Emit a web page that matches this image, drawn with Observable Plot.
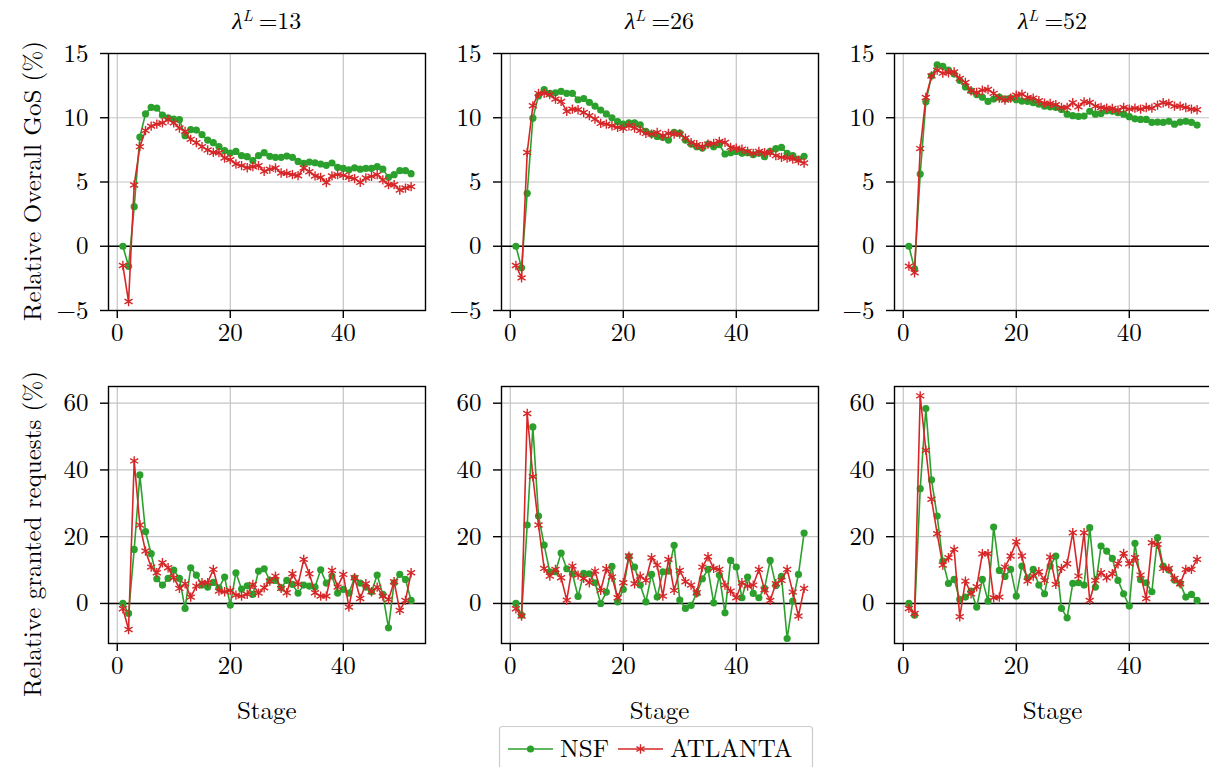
<!DOCTYPE html>
<html><head><meta charset="utf-8">
<script src="https://cdn.jsdelivr.net/npm/d3@7"></script>
<script src="https://cdn.jsdelivr.net/npm/@observablehq/plot@0.6"></script>
<style>
html,body{margin:0;padding:0;background:#fff;overflow:hidden;}
#root{position:relative;width:1209px;height:767px;overflow:hidden;font-family:'Latin Modern Roman','Liberation Serif',serif;}
.panel{position:absolute;}
#overlay{position:absolute;left:0;top:0;pointer-events:none;}
</style></head><body><div id="root"></div>
<script>
// ---------- data ----------
const stages = [1,2,3,4,5,6,7,8,9,10,11,12,13,14,15,16,17,18,19,20,21,22,23,24,25,26,27,28,29,30,31,32,33,34,35,36,37,38,39,40,41,42,43,44,45,46,47,48,49,50,51,52];
const lambdas = ["13","26","52"];
const seriesNames = ["NSF","ATLANTA"];
const xTicks = [0,20,40];
const gosTicks = [-5,0,5,10,15];
const reqTicks = [0,20,40,60];

const gosNSF13 = [0,-1.56,3.08,8.5,10.3,10.8,10.75,10.2,10.0,9.9,9.85,8.6,9.07,9.04,8.68,8.26,8.06,7.75,7.44,7.25,7.38,7.05,6.97,6.66,7.05,7.28,7.0,6.92,6.92,7.02,6.92,6.6,6.45,6.55,6.5,6.4,6.3,6.48,6.14,6.06,5.95,6.1,6.0,6.06,6.06,6.2,6.0,5.36,5.57,5.88,5.88,5.65];
const gosATL13 = [-1.5,-4.3,4.77,7.75,9.0,9.35,9.5,9.6,9.85,9.6,9.2,8.94,8.32,8.06,7.75,7.49,7.3,7.28,6.87,6.74,6.4,6.27,6.11,6.19,6.27,5.83,6.0,6.09,5.7,5.67,5.57,5.49,6.09,5.8,5.47,5.36,4.95,5.47,5.57,5.52,5.36,5.26,4.97,5.31,5.44,5.57,5.16,4.79,4.79,4.38,4.53,4.64];
const gosNSF26 = [0,-1.68,4.12,9.97,11.7,12.2,11.9,11.94,12.05,11.9,11.9,11.4,11.5,11.2,10.9,10.6,10.3,10.0,9.7,9.5,9.6,9.6,9.45,8.94,8.73,8.55,8.47,8.26,8.86,8.8,8.26,7.95,7.75,7.64,7.95,7.75,7.9,7.18,7.28,7.38,7.23,7.28,7.12,7.23,6.97,7.38,7.59,7.69,7.23,7.05,6.79,7.0];
const gosATL26 = [-1.5,-2.46,7.3,10.93,11.9,11.9,11.8,11.45,11.27,10.5,10.67,10.62,10.41,10.16,9.9,9.56,9.5,9.38,9.25,9.17,9.38,9.2,9.0,8.78,8.73,8.86,8.6,8.78,8.73,8.73,8.42,8.06,7.9,7.75,7.95,8.0,8.16,8.08,7.69,7.64,7.56,7.38,7.23,7.38,7.28,7.3,7.05,6.92,6.87,6.79,6.66,6.48];
const gosNSF52 = [0,-1.76,5.62,11.24,13.26,14.12,14.0,13.7,13.4,12.9,12.4,12.1,11.8,11.6,11.27,11.45,11.6,11.45,11.53,11.4,11.3,11.27,11.17,11.06,10.9,10.85,10.8,10.65,10.28,10.16,10.1,10.13,10.5,10.28,10.34,10.54,10.5,10.39,10.28,10.08,9.92,9.87,9.87,9.64,9.66,9.64,9.72,9.5,9.66,9.72,9.64,9.43];
const gosATL52 = [-1.55,-2.07,7.6,11.58,13.26,13.7,13.47,13.5,13.57,13.06,12.75,12.1,11.97,12.15,12.2,11.9,11.53,11.37,11.53,11.76,11.84,11.58,11.53,11.32,11.14,11.11,11.01,10.8,10.8,11.17,10.85,11.24,11.19,10.9,10.8,10.75,10.72,10.6,10.8,10.67,10.75,10.67,10.8,10.75,10.98,11.17,11.11,10.9,10.9,10.8,10.67,10.62];

const reqNSF13 = [0,-3.0,16.2,38.5,21.5,14.9,7.4,5.5,7.5,10.0,7.5,-1.5,10.7,8.5,5.5,4.9,6.3,4.7,7.9,-0.5,9.2,4.3,5.3,2.7,9.7,10.4,6.9,6.9,4.7,6.9,5.7,3.1,5.5,5.2,4.9,10.1,6.1,8.2,3.1,4.2,3.1,7.7,6.1,4.9,3.5,8.5,2.7,-7.3,6.2,8.7,7.2,0.9];
const reqATL13 = [-1.6,-7.8,42.7,23.5,15.7,10.9,9.2,12.2,10.7,7.7,4.5,5.9,1.9,5.2,6.2,6.2,10.2,3.7,3.5,3.9,2.5,2.2,2.7,5.7,3.1,4.7,6.7,8.2,4.5,3.2,8.9,5.7,13.2,8.9,3.2,2.2,2.2,9.9,4.9,8.7,-1.1,7.7,1.5,5.9,3.5,4.9,2.2,1.2,6.5,-2.1,0.9,9.2];
const reqNSF26 = [0,-3.5,23.5,52.9,26.2,17.5,9.5,9.5,15.1,10.4,8.9,2.1,9.0,8.9,6.2,0.0,3.4,11.1,0.5,4.2,14.0,10.9,5.5,0.5,8.7,1.9,9.5,9.7,17.4,1.0,-1.5,-0.6,3.0,7.4,10.2,0.2,8.5,-2.8,12.9,10.9,1.7,7.9,3.0,1.7,4.5,12.9,5.4,8.1,-10.5,0.7,8.7,21.1];
const reqATL26 = [-1.6,-3.8,56.9,38.0,23.5,10.5,8.2,10.2,7.7,1.0,11.2,8.5,7.5,6.2,9.7,3.9,10.4,7.9,1.7,6.2,14.2,5.9,8.2,6.9,13.7,11.5,2.2,13.2,3.9,9.9,6.5,5.5,3.2,10.9,14.0,10.5,10.2,5.5,3.7,1.7,6.2,5.2,5.5,10.2,4.1,0.9,5.9,6.9,10.2,3.4,-3.8,4.5];
const reqNSF52 = [0,-3.5,34.4,58.4,37.0,26.2,12.7,6.0,7.2,1.2,1.9,3.7,-1.1,7.2,0.7,22.9,9.9,8.1,10.2,2.2,11.2,7.7,10.2,5.5,2.9,11.2,14.2,-1.5,-4.3,6.0,6.2,5.5,22.7,4.9,17.2,15.7,13.5,6.9,2.9,-0.8,18.0,7.1,6.2,3.5,19.7,11.2,10.0,7.0,6.0,1.9,2.7,0.9];
const reqATL52 = [-1.5,-3.0,62.2,45.9,31.2,20.9,11.5,13.7,16.2,-4.0,6.7,2.9,5.0,14.9,14.9,1.7,1.9,10.9,14.2,18.5,14.2,6.7,8.2,9.5,6.9,13.9,5.7,10.5,11.9,21.2,8.2,21.2,0.9,6.9,9.2,7.7,8.9,11.9,15.0,11.9,13.7,8.5,1.5,18.2,17.7,10.5,10.5,7.5,5.9,10.2,10.2,13.2];

// ---------- layout / style ----------
const GREEN = "#2ca02c", RED = "#d62728";
const FONT = "'Latin Modern Roman', 'Liberation Serif', serif";
const FW = 317, FH = 257;
const ML = 100, MR = 10, MT = 10, MB = 50;
const colLeft = [108.3, 501, 894];
const rowTop = [52.7, 385.7];

const root = document.getElementById("root");

function rows(vals, name) { return stages.map((s, i) => ({stage: s, value: vals[i], series: name})); }

function panel(nsf, atl, yDomain, yTicks, col, row) {
  const dn = rows(nsf, seriesNames[0]);
  const da = rows(atl, seriesNames[1]);
  const p = Plot.plot({
    width: ML + FW + MR, height: MT + FH + MB,
    marginLeft: ML, marginRight: MR, marginTop: MT, marginBottom: MB,
    style: {fontFamily: FONT, fontSize: "25px", background: "transparent", color: "#000", overflow: "visible"},
    x: {domain: [-1.55, 54.55]},
    y: {domain: yDomain},
    marks: [
      Plot.gridX(xTicks, {stroke: "#c4c4c4", strokeOpacity: 1, strokeWidth: 1.2}),
      Plot.gridY(yTicks, {stroke: "#c4c4c4", strokeOpacity: 1, strokeWidth: 1.2}),
      Plot.ruleY([0], {stroke: "#000", strokeWidth: 1.5}),
      Plot.line(dn, {x: "stage", y: "value", stroke: GREEN, strokeWidth: 1.6}),
      Plot.dot(dn, {x: "stage", y: "value", fill: GREEN, r: 3.6}),
      Plot.line(da, {x: "stage", y: "value", stroke: RED, strokeWidth: 1.6}),
      Plot.dot(da, {x: "stage", y: "value", symbol: "asterisk", stroke: RED, strokeWidth: 1.4, r: 4.4}),
      Plot.frame({stroke: "#000", strokeWidth: 1.4}),
      Plot.axisX(xTicks, {tickSize: 8, tickPadding: 5, label: null, stroke: "#000", strokeWidth: 1.4, fill: "#000", fontFamily: FONT}),
      Plot.axisY(yTicks, {tickSize: 8, tickPadding: 12, label: null, stroke: "#000", strokeWidth: 1.4, fill: "#000", fontFamily: FONT})
    ]
  });
  p.classList.add("panel");
  p.style.left = (colLeft[col] - ML) + "px";
  p.style.top = (rowTop[row] - MT) + "px";
  root.appendChild(p);
}

const gosSets = [[gosNSF13, gosATL13], [gosNSF26, gosATL26], [gosNSF52, gosATL52]];
const reqSets = [[reqNSF13, reqATL13], [reqNSF26, reqATL26], [reqNSF52, reqATL52]];
for (let c = 0; c < 3; c++) {
  panel(gosSets[c][0], gosSets[c][1], [-5, 15], gosTicks, c, 0);
  panel(reqSets[c][0], reqSets[c][1], [-12, 65], reqTicks, c, 1);
}

// ---------- titles, axis labels, legend ----------
const svg = d3.select(root).append("svg").attr("id", "overlay")
  .attr("width", 1209).attr("height", 767)
  .attr("font-family", FONT).style("font-family", FONT).style("fill", "#000");

lambdas.forEach((lam, c) => {
  const cx = colLeft[c] + FW / 2;
  const t = svg.append("text").attr("x", cx).attr("y", 29).attr("text-anchor", "middle").attr("font-size", 24);
  t.append("tspan").attr("font-style", "italic").style("font-family", "'Liberation Serif', serif").text("λ");
  t.append("tspan").attr("font-style", "italic").attr("font-size", 16).attr("dy", -8).text("L");
  t.append("tspan").attr("dy", 8).attr("dx", 6).text("=" + lam);
  svg.append("text").attr("x", cx).attr("y", 719).attr("text-anchor", "middle").attr("font-size", 25).text("Stage");
});

svg.append("text").attr("transform", "translate(30,181) rotate(-90)").attr("text-anchor", "middle")
  .attr("dominant-baseline", "central").attr("font-size", 25).text("Relative Overall GoS (%)");
svg.append("text").attr("transform", "translate(30,534) rotate(-90)").attr("text-anchor", "middle")
  .attr("dominant-baseline", "central").attr("font-size", 25).text("Relative granted requests (%)");

const lg = svg.append("g");
lg.append("rect").attr("x", 499.5).attr("y", 726.5).attr("width", 313).attr("height", 60).attr("rx", 3)
  .attr("fill", "#fff").attr("stroke", "#cccccc").attr("stroke-width", 1.2);
lg.append("line").attr("x1", 508).attr("x2", 553).attr("y1", 749).attr("y2", 749).attr("stroke", GREEN).attr("stroke-width", 1.6);
lg.append("circle").attr("cx", 530.5).attr("cy", 749).attr("r", 3.6).attr("fill", GREEN);
lg.append("text").attr("x", 560).attr("y", 757).attr("font-size", 25).text(seriesNames[0]);
lg.append("line").attr("x1", 618).attr("x2", 663).attr("y1", 749).attr("y2", 749).attr("stroke", RED).attr("stroke-width", 1.6);
lg.append("path").attr("transform", "translate(640.5,749)")
  .attr("d", d3.symbol(d3.symbolAsterisk, Math.PI * 4.4 * 4.4)())
  .attr("fill", "none").attr("stroke", RED).attr("stroke-width", 1.4);
lg.append("text").attr("x", 670).attr("y", 757).attr("font-size", 25).text(seriesNames[1]);
</script>
</body></html>
